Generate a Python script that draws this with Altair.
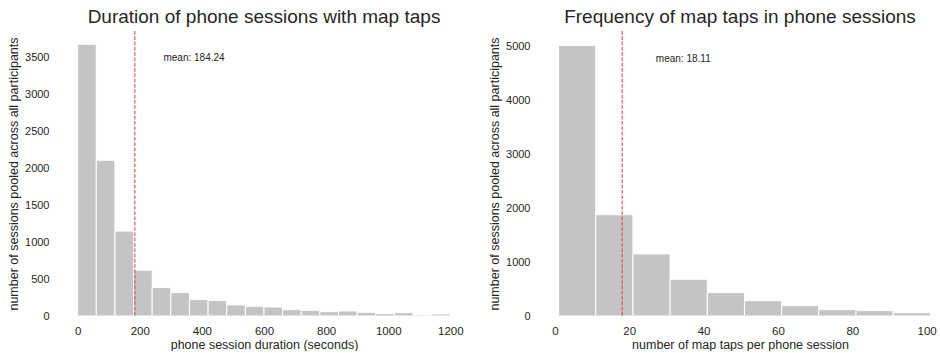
import altair as alt
import pandas as pd

# Left histogram: phone session duration (seconds), 60-s bins
dur_bin_start = [0, 60, 120, 180, 240, 300, 360, 420, 480, 540,
                 600, 660, 720, 780, 840, 900, 960, 1020, 1080, 1140]
dur_bin_width = 60
dur_counts = [3680, 2110, 1150, 621, 385, 317, 222, 209, 150, 131,
              122, 86, 77, 59, 68, 50, 32, 45, 14, 27]
dur_mean = 184.24
dur_mean_label = "mean: 184.24"

# Right histogram: number of map taps per phone session, bins of 10 starting at 1
tap_bin_start = [1, 11, 21, 31, 41, 51, 61, 71, 81, 91]
tap_bin_width = 10
tap_counts = [5020, 1880, 1152, 682, 434, 285, 192, 118, 99, 62]
tap_mean = 18.11
tap_mean_label = "mean: 18.11"

dur_ticks_x = [0, 200, 400, 600, 800, 1000, 1200]
dur_ticks_y = [0, 500, 1000, 1500, 2000, 2500, 3000, 3500]
tap_ticks_x = [0, 20, 40, 60, 80, 100]
tap_ticks_y = [0, 1000, 2000, 3000, 4000, 5000]

FONT = "Liberation Sans"
TXT = "#262626"
BAR = "#c4c4c4"
RED = "#e03a3a"


def panel(starts, width, counts, mean, label, title, xtitle, xdom, ydom,
          xticks, yticks, w, h):
    df = pd.DataFrame({
        "start": starts,
        "end": [s + width for s in starts],
        "count": counts,
        "zero": [0] * len(counts),
    })
    xs = alt.Scale(domain=xdom, nice=False, zero=False)
    ys = alt.Scale(domain=ydom, nice=False)
    xax = alt.Axis(values=xticks, title=xtitle, grid=False, ticks=False,
                   domain=False, labelPadding=9, titlePadding=2, format="d",
                   labelFontSize=11.5, titleFontSize=12.5,
                   labelColor=TXT, titleColor=TXT, titleFontWeight="normal",
                   labelFont=FONT, titleFont=FONT, labelFlush=False)
    yax = alt.Axis(values=yticks, title="number of sessions pooled across all participants",
                   grid=False, ticks=False, domain=False, labelPadding=10,
                   titlePadding=4, labelFontSize=11, titleFontSize=12.5, format="d",
                   labelColor=TXT, titleColor=TXT, titleFontWeight="normal",
                   labelFont=FONT, titleFont=FONT)
    bars = alt.Chart(df).mark_rect(color=BAR, stroke="white", strokeWidth=1).encode(
        x=alt.X("start:Q", scale=xs, axis=xax),
        x2="end:Q",
        y=alt.Y("count:Q", scale=ys, axis=yax),
        y2="zero:Q",
    )
    mdf = pd.DataFrame({"mean": [mean]})
    rule = alt.Chart(mdf).mark_rule(color=RED, strokeWidth=1,
                                    strokeDash=[3.7, 1.6]).encode(
        x=alt.X("mean:Q", scale=xs)
    )
    tdf = pd.DataFrame({"tx": [mean * 1.5], "ty": [max(counts) * 0.95],
                        "label": [label]})
    text = alt.Chart(tdf).mark_text(align="left", baseline="middle",
                                    font=FONT, fontSize=10, color=TXT).encode(
        x=alt.X("tx:Q", scale=xs),
        y=alt.Y("ty:Q", scale=ys),
        text="label:N",
    )
    return alt.layer(bars, rule, text).properties(
        width=w, height=h,
        title=alt.TitleParams(title, fontSize=19, font=FONT, color=TXT,
                              fontWeight="normal", anchor="middle", offset=4),
    )


left = panel(dur_bin_start, dur_bin_width, dur_counts, dur_mean, dur_mean_label,
             "Duration of phone sessions with map taps",
             "phone session duration (seconds)",
             [-60, 1260], [0, 3860], dur_ticks_x, dur_ticks_y, 410, 285)
right = panel(tap_bin_start, tap_bin_width, tap_counts, tap_mean, tap_mean_label,
              "Frequency of map taps in phone sessions",
              "number of map taps per phone session",
              [-4, 103.6], [0, 5290], tap_ticks_x, tap_ticks_y, 400, 285)

chart = alt.hconcat(left, right, spacing=19).properties(
    padding={"left": 7, "top": 7, "right": 0, "bottom": 0},
    background="white",
).configure_view(stroke=None)

chart.save("out.html", embed_options={"renderer": "svg", "actions": False})
